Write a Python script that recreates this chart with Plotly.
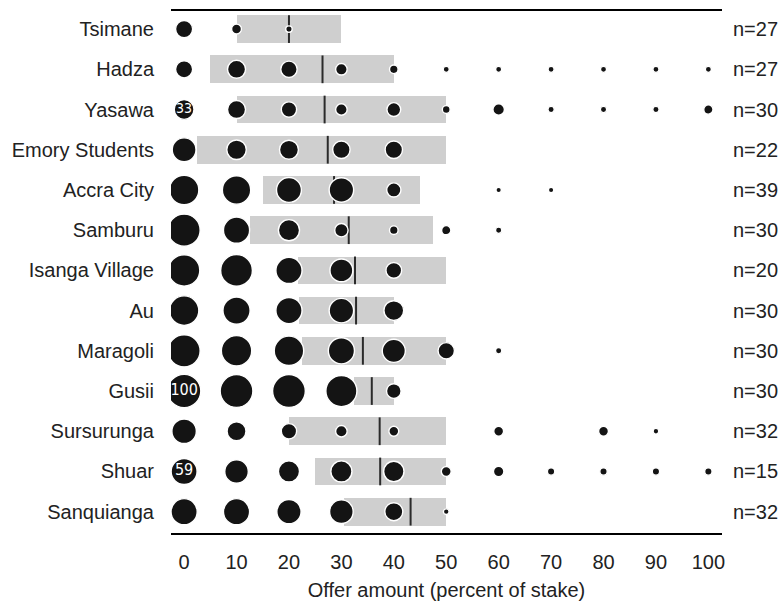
import math
import plotly.graph_objects as go

# ---------------- data ----------------
societies = ["Tsimane", "Hadza", "Yasawa", "Emory Students", "Accra City", "Samburu",
             "Isanga Village", "Au", "Maragoli", "Gusii", "Sursurunga", "Shuar", "Sanquianga"]
offers = [0, 10, 20, 30, 40, 50, 60, 70, 80, 90, 100]

# percent rejecting each offer (bubble area), one row per society
reject_tsimane    = [24, 7, 2.5, 0, 0, 0, 0, 0, 0, 0, 0]
reject_hadza      = [24, 27, 22, 10, 5, 2.2, 2.2, 2.2, 2.2, 2.2, 2.2]
reject_yasawa     = [33, 27, 19, 10, 15, 4, 10, 2.4, 2.4, 2.4, 6]
reject_emory      = [49, 32, 30, 25, 25, 0, 0, 0, 0, 0, 0]
reject_accra      = [77, 71, 54, 52, 16, 0, 1.6, 1.6, 0, 0, 0]
reject_samburu    = [92, 60, 38, 14, 5, 6, 2.4, 0, 0, 0, 0]
reject_isanga     = [88, 90, 60, 45, 20, 0, 0, 0, 0, 0, 0]
reject_au         = [77, 65, 60, 52, 33, 0, 0, 0, 0, 0, 0]
reject_maragoli   = [92, 82, 77, 60, 46, 22, 2.4, 0, 0, 0, 0]
reject_gusii      = [100, 96, 96, 86, 17, 0, 0, 0, 0, 0, 0]
reject_sursurunga = [52, 30, 19, 10, 7, 0, 7, 0, 7, 1.8, 0]
reject_shuar      = [59, 48, 38, 38, 35, 7, 8, 3.5, 3.5, 3.5, 3.5]
reject_sanquianga = [60, 60, 51, 48, 27, 1.8, 0, 0, 0, 0, 0]
reject_rows = [reject_tsimane, reject_hadza, reject_yasawa, reject_emory, reject_accra,
               reject_samburu, reject_isanga, reject_au, reject_maragoli, reject_gusii,
               reject_sursurunga, reject_shuar, reject_sanquianga]

iqr_low  = [10, 5, 10, 2.5, 15, 12.5, 21.7, 22, 22.5, 32.5, 20, 25, 30.5]
iqr_high = [30, 40, 50, 50, 45, 47.5, 50, 40, 50, 40, 50, 50, 50]
mean_mao = [20, 26.4, 26.8, 27.4, 28.6, 31.4, 32.6, 32.8, 34.1, 35.8, 37.3, 37.4, 43.2]
n_sample = [27, 27, 30, 22, 39, 30, 20, 30, 30, 30, 32, 15, 32]

label_society = ["Yasawa", "Gusii", "Shuar"]
label_offer = [0, 0, 0]
label_text = ["33", "100", "59"]

x_tick_vals = offers
x_title = "Offer amount (percent of stake)"

# ---------------- figure ----------------
FONT = "Liberation Sans, Arial, Helvetica, sans-serif"
TXT = "#222222"
D_MAX = 32.0
OUTLINE = 1.4
BAR_W = 0.69

ypos = list(range(len(societies)))
fig = go.Figure()

# grey interquartile bars
fig.add_trace(go.Bar(
    y=ypos, x=[h - l for l, h in zip(iqr_low, iqr_high)], base=iqr_low,
    orientation="h", width=BAR_W, marker=dict(color="#cfcfcf", line=dict(width=0)),
    hoverinfo="skip", showlegend=False))

# mean lines
lx, ly = [], []
for i, m in enumerate(mean_mao):
    lx += [m, m, None]
    ly += [i - BAR_W / 2, i + BAR_W / 2, None]
fig.add_trace(go.Scatter(x=lx, y=ly, mode="lines", line=dict(color="#2a2a2a", width=2),
                         hoverinfo="skip", showlegend=False))

# bubbles (area proportional to percent rejecting)
bx, by, bs, bv = [], [], [], []
for i, row in enumerate(reject_rows):
    for o, v in zip(offers, row):
        if v > 0:
            bx.append(o)
            by.append(i)
            bv.append(v)
            bs.append(OUTLINE + D_MAX * math.sqrt(v / 100.0))
fig.add_trace(go.Scatter(
    x=bx, y=by, mode="markers", customdata=bv,
    marker=dict(size=bs, sizemode="diameter", color="#141414", opacity=1,
                line=dict(color="white", width=OUTLINE)),
    hovertemplate="%{customdata}%<extra></extra>", showlegend=False))

# labels inside bubbles
fig.add_trace(go.Scatter(
    x=label_offer, y=[societies.index(s) for s in label_society], text=label_text,
    mode="text", textposition="middle center",
    textfont=dict(family="Liberation Sans Narrow, Arial Narrow, DejaVu Sans Condensed, sans-serif",
                  size=[14, 16, 16], color="white"),
    hoverinfo="skip", showlegend=False))

# n= annotations
for i, n in enumerate(n_sample):
    fig.add_annotation(x=1, xref="paper", y=i, yref="y", text=f"n={n}",
                       xanchor="left", yanchor="middle", xshift=9, showarrow=False,
                       font=dict(family=FONT, size=20, color=TXT))

fig.update_layout(
    width=779, height=601,
    margin=dict(l=171, r=57, t=11, b=68),
    paper_bgcolor="white", plot_bgcolor="white",
    font=dict(family=FONT, size=20, color=TXT),
    bargap=0,
    xaxis=dict(range=[-2.5, 102.6], tickvals=x_tick_vals, ticks="", showgrid=False,
               zeroline=False, showline=True, mirror=True, linecolor="black", linewidth=1.5,
               tickfont=dict(size=20, color=TXT), ticklabelstandoff=10, automargin=False,
               title=dict(text=x_title, font=dict(size=20, color=TXT), standoff=12)),
    yaxis=dict(range=[12.53, -0.45], tickvals=ypos, ticktext=societies, ticks="",
               showgrid=False, zeroline=False, showline=False, automargin=False,
               tickfont=dict(size=20, color=TXT), ticklabelstandoff=16),
)

fig.write_html("out.html", config={"displayModeBar": False},
               post_script="document.body.style.margin='0';document.body.style.overflow='hidden';")
